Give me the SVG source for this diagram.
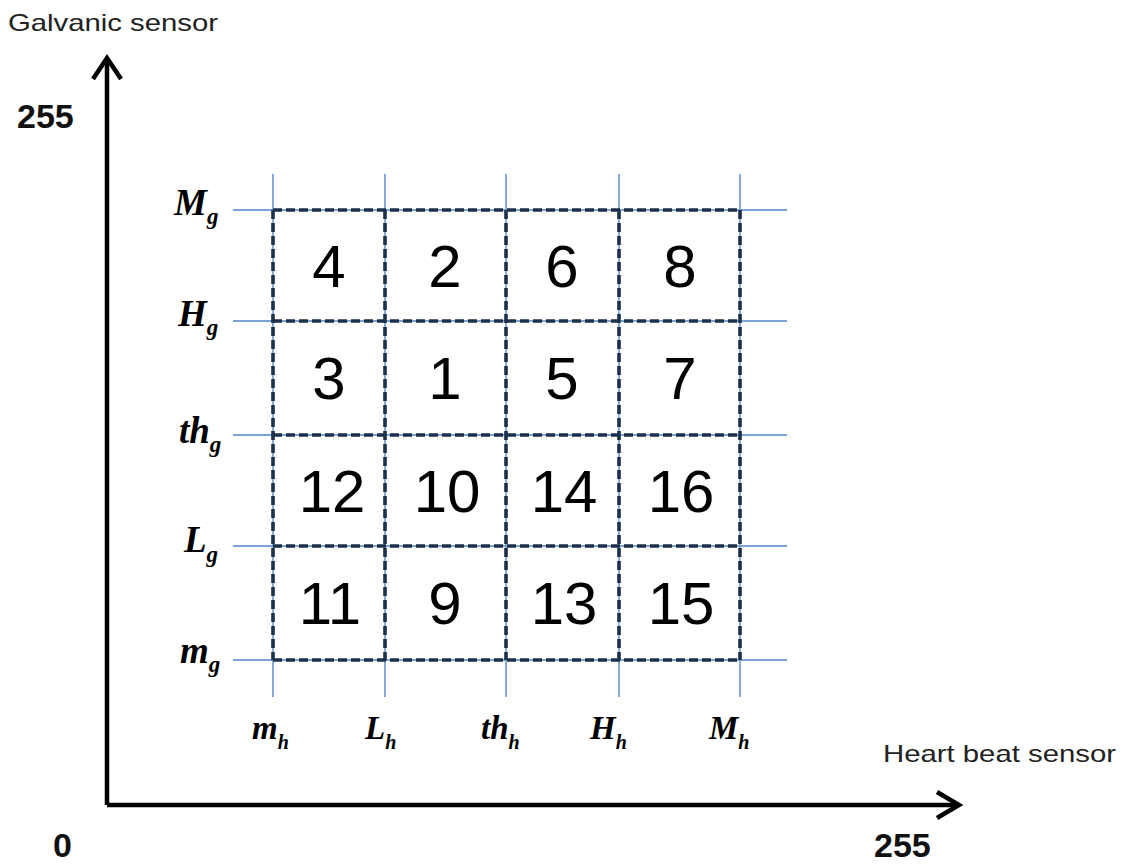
<svg xmlns="http://www.w3.org/2000/svg" width="1123" height="865" viewBox="0 0 1123 865">
<style>
.blue{stroke:#7ba3d6;stroke-width:1.8;fill:none}
.dash{stroke:#1c3049;stroke-width:3.6;stroke-dasharray:9 4;fill:none}
.axis{stroke:#000;stroke-width:4.5;fill:none}
.num{font-family:"Liberation Sans",Arial,sans-serif;font-size:60px;fill:#000;text-anchor:middle}
.lab{font-family:"Liberation Sans",Arial,sans-serif;font-size:24px;fill:#222}
.big{font-family:"Liberation Sans",Arial,sans-serif;font-size:34px;font-weight:bold;fill:#111}
.vy{font-family:"Liberation Serif","Times New Roman",serif;font-size:37px;font-weight:bold;font-style:italic;fill:#000}
.vx{font-family:"Liberation Serif","Times New Roman",serif;font-size:33px;font-weight:bold;font-style:italic;fill:#000}
.sy{font-size:23px}
.sx{font-size:20px}
</style>
<rect width="1123" height="865" fill="#fff"/>
<g id="axes">
<path class="axis" d="M107,805 V60 M107,805 H958"/>
<path class="axis" d="M93,79 L107,58 L121,79"/>
<path class="axis" d="M937,792 L959,805 L937,818"/>
</g>
<g id="connectors">
<g id="grid-blue">
<path class="blue" d="M273,174 V697 M385,174 V697 M506,174 V697 M619,174 V697 M740,174 V697"/>
<path class="blue" d="M233,210 H787 M233,321 H787 M233,435 H787 M233,546 H787 M233,660 H787"/>
</g>
<g id="grid-dash">
<path class="dash" d="M273,210 H740 M273,321 H740 M273,435 H740 M273,546 H740 M273,660 H740"/>
<path class="dash" d="M273,210 V660 M385,210 V660 M506,210 V660 M619,210 V660 M740,210 V660"/>
</g>
</g>
<g id="cells">
<g id="row1"><text class="num" x="329" y="287">4</text><text class="num" x="445" y="287">2</text><text class="num" x="562" y="287">6</text><text class="num" x="680" y="287">8</text></g>
<g id="row2"><text class="num" x="329" y="399">3</text><text class="num" x="445" y="399">1</text><text class="num" x="562" y="399">5</text><text class="num" x="680" y="399">7</text></g>
<g id="row3"><text class="num" x="332" y="512">12</text><text class="num" x="447" y="512">10</text><text class="num" x="564" y="512">14</text><text class="num" x="681" y="512">16</text></g>
<g id="row4"><text class="num" x="330" y="624">11</text><text class="num" x="445" y="624">9</text><text class="num" x="564" y="624">13</text><text class="num" x="681" y="624">15</text></g>
</g>
<g id="ylabels">
<text class="vy" x="174" y="215">M<tspan class="sy" dy="9">g</tspan></text>
<text class="vy" x="178" y="326">H<tspan class="sy" dy="9">g</tspan></text>
<text class="vy" x="179" y="443">th<tspan class="sy" dy="9">g</tspan></text>
<text class="vy" x="184" y="552">L<tspan class="sy" dy="10">g</tspan></text>
<text class="vy" x="180" y="663">m<tspan class="sy" dy="9">g</tspan></text>
</g>
<g id="xlabels">
<text class="vx" x="252" y="739">m<tspan class="sx" dy="10">h</tspan></text>
<text class="vx" x="365" y="739">L<tspan class="sx" dy="10">h</tspan></text>
<text class="vx" x="481" y="739">th<tspan class="sx" dy="10">h</tspan></text>
<text class="vx" x="590" y="739">H<tspan class="sx" dy="10">h</tspan></text>
<text class="vx" x="709" y="739">M<tspan class="sx" dy="10">h</tspan></text>
</g>
<g id="texts">
<text class="lab" x="8" y="31" textLength="210" lengthAdjust="spacingAndGlyphs">Galvanic sensor</text>
<text class="lab" x="883" y="762" textLength="233" lengthAdjust="spacingAndGlyphs">Heart beat sensor</text>
<text class="big" x="17" y="128">255</text>
<text class="big" x="53" y="857">0</text>
<text class="big" x="874" y="857">255</text>
</g>
</svg>
